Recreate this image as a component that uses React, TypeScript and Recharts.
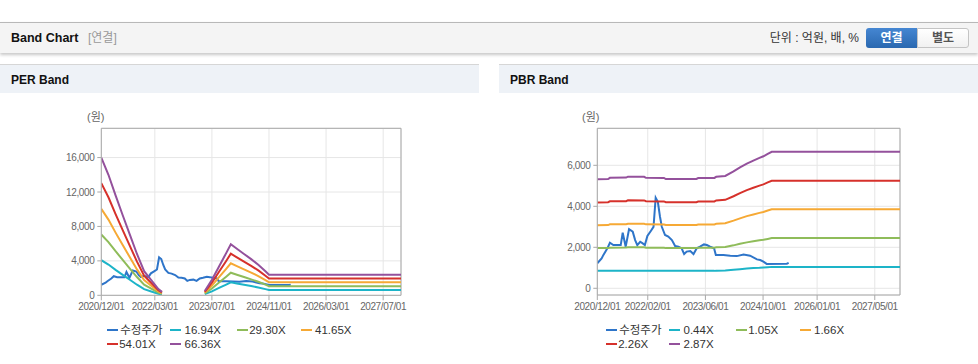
import React from "react";
import { LineChart, Line, XAxis, YAxis, CartesianGrid, ReferenceLine } from "recharts";

// ---------- shared price (수정주가), x = months since 2020/12/01 ----------
const priceMonths = [0, 1.2, 1.7, 2.8, 3.5, 4.45, 6.5, 7.05, 7.88, 8.81, 9.83, 10.5, 11.1, 11.9, 12.6, 13.2, 13.9, 14.9, 15.6, 16.2, 16.8, 17.4, 17.9, 18.8, 19.7, 20.7, 21.6, 22.5, 23.4, 24.1, 24.8, 25.8, 26.7, 27.6, 28.5, 29.6, 30.4, 31.3, 32.4, 32.9, 35.0, 36.9, 38.7, 40.6, 42.4, 44.3, 45.2, 46.1, 47.0, 52.6, 53.1];
const priceValues = [1220, 1460, 1630, 1950, 2220, 2110, 2110, 2710, 2030, 2880, 2760, 2350, 2110, 2270, 2190, 2110, 2550, 2810, 3000, 4420, 4220, 3490, 3000, 2600, 2520, 2350, 2060, 2030, 1950, 1670, 1790, 1820, 1670, 1950, 2030, 2140, 2110, 2030, 1950, 1620, 1620, 1590, 1570, 1650, 1590, 1410, 1380, 1300, 1190, 1200, 1240];

// ---------- PER bands ----------
const perSeg1Months = [0, 2, 4, 6, 8, 10, 12, 14, 16, 17];
const per1694a = [4080, 3570, 2960, 2380, 1800, 1230, 710, 450, 180, 100];
const per2930a = [7060, 6180, 5120, 4110, 3110, 2120, 1240, 780, 320, 180];
const per4165a = [10040, 8790, 7280, 5840, 4420, 3010, 1760, 1100, 450, 250];
const per5401a = [13020, 11390, 9440, 7570, 5740, 3910, 2280, 1430, 590, 330];
const per6636a = [16000, 14000, 11600, 9300, 7050, 4800, 2800, 1760, 720, 400];

const perSeg2Months = [29, 31, 33, 35, 36.3, 38, 40, 42, 44, 46, 47, 84];
const per1694b = [130, 460, 860, 1250, 1510, 1380, 1230, 1070, 910, 720, 610, 610];
const per2930b = [220, 790, 1480, 2160, 2620, 2390, 2120, 1850, 1570, 1240, 1060, 1060];
const per4165b = [310, 1130, 2100, 3080, 3720, 3390, 3010, 2640, 2230, 1760, 1510, 1510];
const per5401b = [410, 1470, 2730, 3990, 4830, 4400, 3910, 3420, 2890, 2280, 1950, 1950];
const per6636b = [500, 1800, 3350, 4900, 5930, 5400, 4800, 4200, 3550, 2800, 2400, 2400];

const perTickMonths = [0, 15, 31, 47, 63, 79];
const perTickLabels = ["2020/12/01", "2022/03/01", "2023/07/01", "2024/11/01", "2026/03/01", "2027/07/01"];
const perYTicks = [0, 4000, 8000, 12000, 16000];
const perLegend = ["수정주가", "16.94X", "29.30X", "41.65X", "54.01X", "66.36X"];

// ---------- PBR bands ----------
const pbrMonths = [0, 3, 3.5, 8, 8.5, 13, 13.5, 18.5, 19, 27.5, 28, 32.5, 33, 35.5, 37.8, 39.6, 41.5, 43.3, 45, 46.1, 47.3, 48.4, 84];
const pbr044 = [850, 850, 850, 850, 850, 850, 850, 850, 850, 850, 850, 850, 860, 870, 900, 930, 960, 985, 1000, 1015, 1030, 1045, 1045];
const pbr105 = [1960, 1960, 1980, 1985, 2000, 2000, 1980, 1980, 1960, 1960, 1975, 1980, 2000, 2015, 2095, 2170, 2240, 2290, 2340, 2370, 2410, 2450, 2450];
const pbr166 = [3080, 3085, 3120, 3125, 3150, 3145, 3120, 3115, 3085, 3085, 3110, 3115, 3145, 3170, 3300, 3410, 3520, 3600, 3680, 3725, 3795, 3855, 3855];
const pbr226 = [4190, 4200, 4245, 4250, 4290, 4285, 4245, 4240, 4200, 4200, 4235, 4240, 4285, 4315, 4490, 4645, 4790, 4905, 5010, 5070, 5165, 5245, 5245];
const pbr287 = [5320, 5330, 5390, 5400, 5445, 5440, 5390, 5385, 5330, 5335, 5380, 5385, 5440, 5480, 5700, 5900, 6080, 6230, 6360, 6440, 6560, 6660, 6660];

const pbrTickMonths = [0, 14, 30, 46, 61, 77];
const pbrTickLabels = ["2020/12/01", "2022/02/01", "2023/06/01", "2024/10/01", "2026/01/01", "2027/05/01"];
const pbrYTicks = [0, 2000, 4000, 6000];
const pbrLegend = ["수정주가", "0.44X", "1.05X", "1.66X", "2.26X", "2.87X"];

const COLORS = ["#2e75c9", "#1db4c8", "#8fbc5a", "#f6a935", "#d6312b", "#94519c"];
const FONT = "'Liberation Sans', Arial, 'Noto Sans CJK KR', sans-serif";

type Series = { key: string; xs: number[]; ys: number[] };

function mergeSeries(list: Series[]) {
  const map = new Map<number, any>();
  list.forEach((s) => {
    s.xs.forEach((x, i) => {
      if (!map.has(x)) map.set(x, { x });
      map.get(x)[s.key] = s.ys[i];
    });
  });
  return Array.from(map.values()).sort((a, b) => a.x - b.x);
}

const perData = mergeSeries([
  { key: "price", xs: priceMonths, ys: priceValues },
  { key: "c1a", xs: perSeg1Months, ys: per1694a },
  { key: "c2a", xs: perSeg1Months, ys: per2930a },
  { key: "c3a", xs: perSeg1Months, ys: per4165a },
  { key: "c4a", xs: perSeg1Months, ys: per5401a },
  { key: "c5a", xs: perSeg1Months, ys: per6636a },
  { key: "c1b", xs: perSeg2Months, ys: per1694b },
  { key: "c2b", xs: perSeg2Months, ys: per2930b },
  { key: "c3b", xs: perSeg2Months, ys: per4165b },
  { key: "c4b", xs: perSeg2Months, ys: per5401b },
  { key: "c5b", xs: perSeg2Months, ys: per6636b },
]);

const pbrData = mergeSeries([
  { key: "price", xs: priceMonths, ys: priceValues },
  { key: "c1", xs: pbrMonths, ys: pbr044 },
  { key: "c2", xs: pbrMonths, ys: pbr105 },
  { key: "c3", xs: pbrMonths, ys: pbr166 },
  { key: "c4", xs: pbrMonths, ys: pbr226 },
  { key: "c5", xs: pbrMonths, ys: pbr287 },
]);

const tickStyle = { fontSize: 10, fill: "#666", fontFamily: FONT, letterSpacing: -0.4 };

function line(key: string, color: string) {
  return (
    <Line
      key={key}
      dataKey={key}
      type="linear"
      stroke={color}
      strokeWidth={2}
      dot={false}
      activeDot={false}
      connectNulls
      isAnimationActive={false}
    />
  );
}

function Legend({ labels, left }: { labels: string[]; left: number }) {
  const pos = [
    [0, 330], [63.3, 330], [130, 330], [194.3, 330],
    [0, 343.5], [63.3, 343.5],
  ];
  const textOffset = [13.5, 14.5, 12.5, 14, 12.5, 14.5];
  return (
    <>
      {labels.map((lab, i) => (
        <div key={lab} style={{ position: "absolute", left: left + pos[i][0], top: pos[i][1] - 8, height: 16, width: 80 }}>
          <div style={{ position: "absolute", left: 0, top: 7, width: 11, height: 2, background: COLORS[i] }} />
          <div style={{ position: "absolute", left: textOffset[i], top: 0, fontSize: 11.5, lineHeight: "16px", color: "#333", fontFamily: FONT, whiteSpace: "nowrap" }}>{lab}</div>
        </div>
      ))}
    </>
  );
}

export default function App() {
  const perFmt = (v: number) => perTickLabels[perTickMonths.indexOf(v)] ?? "";
  const pbrFmt = (v: number) => pbrTickLabels[pbrTickMonths.indexOf(v)] ?? "";
  const numFmt = (v: number) => v.toLocaleString("en-US");
  return (
    <div style={{ position: "absolute", left: 0, top: 0, width: 978, height: 364, background: "#fff", fontFamily: FONT, overflow: "hidden" }}>
      {/* top header bar */}
      <div style={{ position: "absolute", left: 0, top: 22, width: 978, height: 30, background: "#f4f4f4", borderTop: "1px solid #b8b8b8", boxShadow: "0 2px 3px rgba(0,0,0,0.22)" }} />
      <div style={{ position: "absolute", left: 11, top: 29, fontSize: 12.5, fontWeight: "bold", color: "#111", lineHeight: "18px" }}>Band Chart</div>
      <div style={{ position: "absolute", left: 88, top: 29, fontSize: 12, color: "#999", lineHeight: "18px" }}>[연결]</div>
      <div style={{ position: "absolute", right: 119, top: 29, fontSize: 12, color: "#333", lineHeight: "18px", whiteSpace: "nowrap" }}>단위 : 억원, 배, %</div>
      <div style={{ position: "absolute", left: 866, top: 28, width: 51, height: 20, background: "linear-gradient(#4586d2, #2a68b0)", borderRadius: "3px 0 0 3px", color: "#fff", fontSize: 12, fontWeight: "bold", lineHeight: "20px", textAlign: "center" }}>연결</div>
      <div style={{ position: "absolute", left: 917, top: 28, width: 50, height: 18, background: "linear-gradient(#ffffff, #f1f1f1)", border: "1px solid #c4c4c4", borderRadius: "0 3px 3px 0", color: "#555", fontSize: 12, fontWeight: "bold", lineHeight: "18px", textAlign: "center" }}>별도</div>

      {/* panel headers */}
      <div style={{ position: "absolute", left: 0, top: 64, width: 479, height: 28, background: "#eef2f7", borderTop: "1px solid #d6d6d6" }} />
      <div style={{ position: "absolute", left: 499, top: 64, width: 479, height: 28, background: "#eef2f7", borderTop: "1px solid #d6d6d6" }} />
      <div style={{ position: "absolute", left: 11, top: 71, fontSize: 12, fontWeight: "bold", color: "#111", lineHeight: "18px" }}>PER Band</div>
      <div style={{ position: "absolute", left: 510, top: 71, fontSize: 12, fontWeight: "bold", color: "#111", lineHeight: "18px" }}>PBR Band</div>

      <div style={{ position: "absolute", left: 87, top: 109, fontSize: 11, color: "#666", lineHeight: "16px" }}>(원)</div>
      <div style={{ position: "absolute", left: 582, top: 109, fontSize: 11, color: "#666", lineHeight: "16px" }}>(원)</div>

      {/* PER chart */}
      <div style={{ position: "absolute", left: 0, top: 100 }}>
        <LineChart width={480} height={264} data={perData} margin={{ top: 28.3, right: 79, bottom: 48.7, left: 0 }}>
          <CartesianGrid stroke="#e6e6e6" />
          <XAxis type="number" dataKey="x" domain={[0, 84]} ticks={perTickMonths} tickFormatter={perFmt} allowDataOverflow
            height={20} tick={tickStyle} tickSize={5} tickMargin={3} stroke="#a8a8a8" interval={0} />
          <YAxis type="number" domain={[0, 19400]} ticks={perYTicks} tickFormatter={numFmt} allowDataOverflow
            width={101.3} tick={tickStyle} tickSize={4} tickMargin={3} stroke="#a8a8a8" interval={0} />
          <ReferenceLine y={19400} stroke="#a8a8a8" />
          <ReferenceLine x={84} stroke="#a8a8a8" />
          {line("price", COLORS[0])}
          {line("c1a", COLORS[1])}
          {line("c2a", COLORS[2])}
          {line("c3a", COLORS[3])}
          {line("c4a", COLORS[4])}
          {line("c5a", COLORS[5])}
          {line("c1b", COLORS[1])}
          {line("c2b", COLORS[2])}
          {line("c3b", COLORS[3])}
          {line("c4b", COLORS[4])}
          {line("c5b", COLORS[5])}
        </LineChart>
      </div>

      {/* PBR chart */}
      <div style={{ position: "absolute", left: 499, top: 100 }}>
        <LineChart width={479} height={264} data={pbrData} margin={{ top: 28.3, right: 78, bottom: 49, left: 0 }}>
          <CartesianGrid stroke="#e6e6e6" />
          <XAxis type="number" dataKey="x" domain={[0, 84]} ticks={pbrTickMonths} tickFormatter={pbrFmt} allowDataOverflow
            height={20} tick={tickStyle} tickSize={5} tickMargin={3} stroke="#a8a8a8" interval={0} />
          <YAxis type="number" domain={[-327, 7805]} ticks={pbrYTicks} tickFormatter={numFmt} allowDataOverflow
            width={98.3} tick={tickStyle} tickSize={4} tickMargin={3} stroke="#a8a8a8" interval={0} />
          <ReferenceLine y={7805} stroke="#a8a8a8" />
          <ReferenceLine x={84} stroke="#a8a8a8" />
          {line("price", COLORS[0])}
          {line("c1", COLORS[1])}
          {line("c2", COLORS[2])}
          {line("c3", COLORS[3])}
          {line("c4", COLORS[4])}
          {line("c5", COLORS[5])}
        </LineChart>
      </div>

      <Legend labels={perLegend} left={106.7} />
      <Legend labels={pbrLegend} left={605.7} />
    </div>
  );
}
